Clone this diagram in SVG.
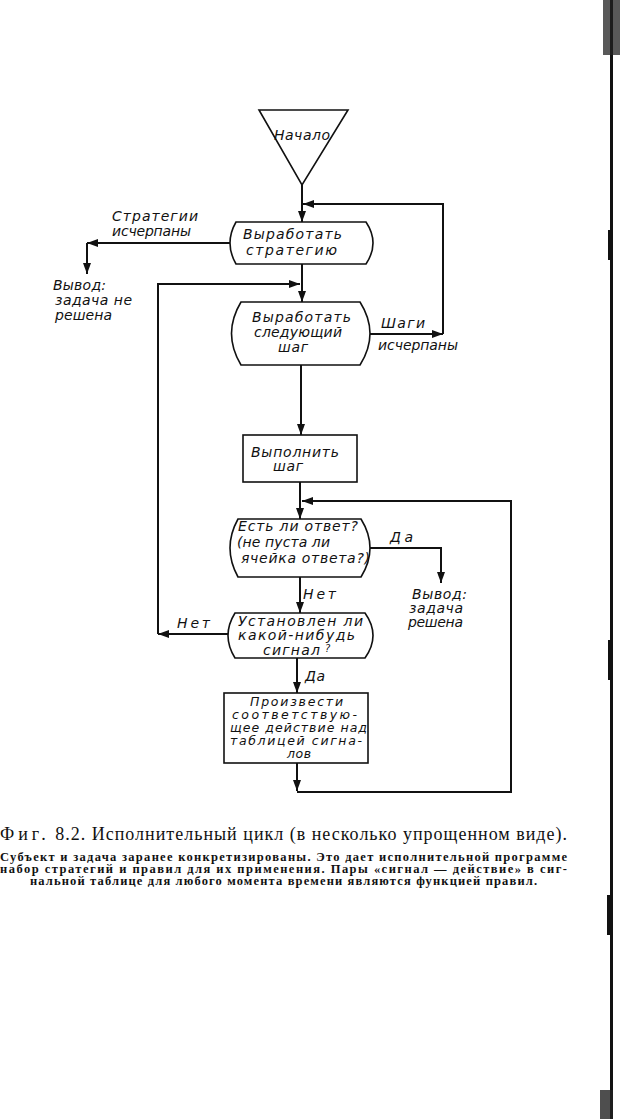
<svg xmlns="http://www.w3.org/2000/svg" width="620" height="1119" viewBox="0 0 620 1119">
<defs>
<marker id="ah" markerUnits="userSpaceOnUse" markerWidth="12" markerHeight="8" refX="11" refY="4" orient="auto"><path d="M0,0 L11,4 L0,8 Z" fill="#111"/></marker>
</defs>
<style>
.sh{fill:none;stroke:#111;stroke-width:1.6}
.cn{fill:none;stroke:#111;stroke-width:2}
.t{font-family:"DejaVu Sans",sans-serif;font-style:italic;font-size:14px;fill:#111}
.s{font-size:12.5px}
.q{font-size:10px}
.cap{font-family:"Liberation Serif",serif;fill:#111}
.b{font-weight:bold;font-size:12.5px}
</style>
<rect width="620" height="1119" fill="#fff"/>

<g id="connectors">
<path class="cn" d="M302,185 V222" marker-end="url(#ah)"/>
<path class="cn" d="M370,334 H443" marker-end="url(#ah)"/>
<path class="cn" d="M443,334 V204 H303" marker-end="url(#ah)"/>
<path class="cn" d="M230,243 H87" marker-end="url(#ah)"/>
<path class="cn" d="M87,243 V274" marker-end="url(#ah)"/>
<path class="cn" d="M302,264 V302" marker-end="url(#ah)"/>
<path class="cn" d="M158,634 V284 H300" marker-end="url(#ah)"/>
<path class="cn" d="M301,365 V435" marker-end="url(#ah)"/>
<path class="cn" d="M300,482 V519" marker-end="url(#ah)"/>
<path class="cn" d="M370,548 H441 V583" marker-end="url(#ah)"/>
<path class="cn" d="M300,577 V613" marker-end="url(#ah)"/>
<path class="cn" d="M228,634 H158" marker-end="url(#ah)"/>
<path class="cn" d="M297,658 V693" marker-end="url(#ah)"/>
<path class="cn" d="M297,763 V791" marker-end="url(#ah)"/>
<path class="cn" d="M297,792 H511 V501 H302" marker-end="url(#ah)"/>
</g>

<g id="start">
<polygon class="sh" points="259,110 348,110 302,185"/>
<text class="t" x="274" y="140" textLength="56">Начало</text>
</g>

<g id="strategy">
<path class="sh" d="M236,222 H366 Q380,243 366,264 H236 Q224,243 236,222 Z"/>
<text class="t" x="243" y="239" textLength="99">Выработать</text>
<text class="t" x="246" y="255" textLength="91">стратегию</text>
</g>

<g id="label-strategies">
<text class="t" x="112" y="221" textLength="86">Стратегии</text>
<text class="t" x="112" y="236" textLength="79">исчерпаны</text>
</g>

<g id="out-fail">
<text class="t" x="53" y="290" textLength="53">Вывод:</text>
<text class="t" x="55" y="305" textLength="77">задача не</text>
<text class="t" x="55" y="320" textLength="57">решена</text>
</g>

<g id="next-step">
<path class="sh" d="M241,302 H360 Q380,333.5 360,365 H241 Q222,333.5 241,302 Z"/>
<text class="t" x="252" y="322" textLength="99">Выработать</text>
<text class="t" x="254" y="337" textLength="88">следующий</text>
<text class="t" x="278" y="352" textLength="30">шаг</text>
</g>

<g id="label-steps">
<text class="t" x="381" y="328" textLength="44">Шаги</text>
<text class="t" x="378" y="350" textLength="80">исчерпаны</text>
</g>

<g id="execute">
<rect class="sh" x="243" y="435" width="114" height="47"/>
<text class="t" x="251" y="457" textLength="88">Выполнить</text>
<text class="t" x="273" y="471" textLength="30">шаг</text>
</g>

<g id="answer">
<path class="sh" d="M238,519 H361 Q379,548 361,577 H238 Q222,548 238,519 Z"/>
<text class="t" x="238" y="531" textLength="120">Есть ли ответ?</text>
<text class="t" x="237" y="547" textLength="93">(не пуста ли</text>
<text class="t" x="241" y="563" textLength="129">ячейка ответа?)</text>
</g>

<g id="label-yes1"><text class="t" x="390" y="542" textLength="23">Да</text></g>

<g id="out-success">
<text class="t" x="412" y="599" textLength="55">Вывод:</text>
<text class="t" x="409" y="613" textLength="54">задача</text>
<text class="t" x="408" y="627" textLength="55">решена</text>
</g>

<g id="label-no1"><text class="t" x="303" y="599" textLength="33">Нет</text></g>
<g id="label-no2"><text class="t" x="177" y="628" textLength="33">Нет</text></g>

<g id="signal">
<path class="sh" d="M235,613 H365 Q381,635.5 365,658 H235 Q221,635.5 235,613 Z"/>
<text class="t" x="238" y="626" textLength="125">Установлен ли</text>
<text class="t" x="238" y="640" textLength="117">какой-нибудь</text>
<text class="t" x="263" y="655" textLength="57">сигнал</text>
<text class="t q" x="325" y="652">?</text>
</g>

<g id="label-yes2"><text class="t" x="305" y="681" textLength="20">Да</text></g>

<g id="action">
<rect class="sh" x="224" y="693" width="144" height="70"/>
<text class="t s" x="250" y="706" textLength="93">Произвести</text>
<text class="t s" x="232" y="719" textLength="125">соответствую-</text>
<text class="t s" x="230" y="732" textLength="137">щее действие над</text>
<text class="t s" x="230" y="745" textLength="132">таблицей сигна-</text>
<text class="t s" x="287" y="758" textLength="24">лов</text>
</g>

<g id="caption">
<text class="cap" x="0" y="840" font-size="18" textLength="567"><tspan letter-spacing="3">Фиг.</tspan> 8.2. Исполнительный цикл (в несколько упрощенном виде).</text>
<text class="cap b" x="0" y="861" textLength="567">Субъект и задача заранее конкретизированы. Это дает исполнительной программе</text>
<text class="cap b" x="0" y="873" textLength="567">набор стратегий и правил для их применения. Пары «сигнал — действие» в сиг-</text>
<text class="cap b" x="30" y="885" textLength="507">нальной таблице для любого момента времени являются функцией правил.</text>
</g>

<g id="page-edge">
<rect x="610" y="0" width="3" height="1119" fill="#111"/>
<rect x="603" y="0" width="17" height="55" fill="#222" opacity="0.75"/>
<rect x="608" y="230" width="5" height="30" fill="#111"/>
<rect x="608" y="640" width="5" height="40" fill="#111"/>
<rect x="607" y="895" width="6" height="40" fill="#111"/>
<rect x="600" y="1090" width="13" height="29" fill="#222" opacity="0.8"/>
</g>
</svg>
